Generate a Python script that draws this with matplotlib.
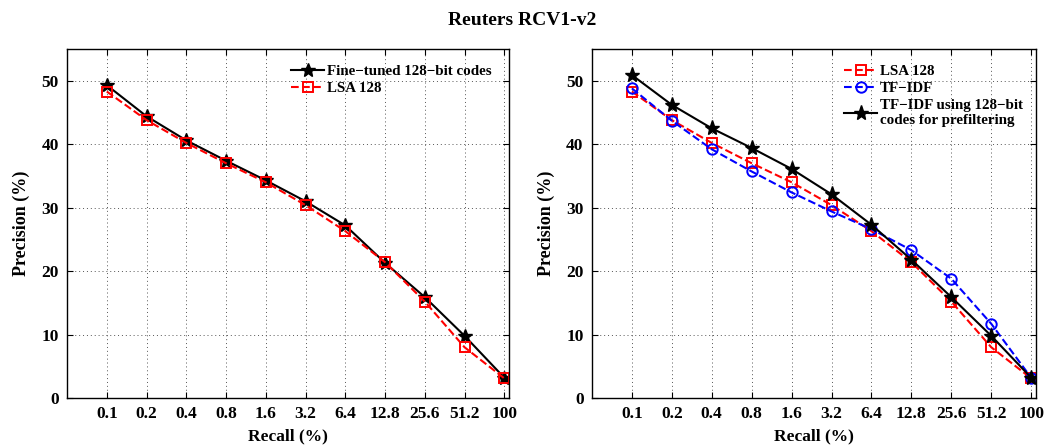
import matplotlib
matplotlib.use("Agg")
import matplotlib.pyplot as plt

recall_labels = ["0.1", "0.2", "0.4", "0.8", "1.6", "3.2", "6.4", "12.8", "25.6", "51.2", "100"]
finetuned_128 = [49.3, 44.4, 40.6, 37.4, 34.3, 31.0, 27.2, 21.3, 15.9, 9.8, 3.2]
lsa_128 = [48.3, 43.8, 40.2, 37.0, 34.0, 30.4, 26.3, 21.4, 15.2, 8.0, 3.1]
tfidf = [48.8, 43.7, 39.2, 35.7, 32.4, 29.4, 26.6, 23.3, 18.8, 11.7, 3.2]
tfidf_prefilter = [50.9, 46.2, 42.5, 39.4, 36.1, 32.1, 27.3, 21.8, 15.9, 9.8, 3.2]

plt.rcParams['font.family'] = ['Liberation Serif', 'DejaVu Serif']
plt.rcParams['font.weight'] = 'bold'

fig = plt.figure(figsize=(10.44, 4.48), dpi=100)
ax1 = fig.add_axes([0.0642, 0.1116, 0.4234, 0.779])
ax2 = fig.add_axes([0.567, 0.1116, 0.4253, 0.779])

x = list(range(1, len(recall_labels) + 1))

def style(ax):
    ax.set_xlim(0, 11.12)
    ax.set_ylim(0, 55)
    ax.set_xticks(x)
    ax.set_xticklabels(recall_labels)
    ax.set_yticks([0, 10, 20, 30, 40, 50])
    ax.tick_params(direction='in', top=True, right=True, labelsize=12.5, length=4, width=0.8, pad=6)
    for lab in ax.get_xticklabels() + ax.get_yticklabels():
        lab.set_fontweight('bold')
    ax.grid(True, linestyle=(0, (1, 3)), color='#555555', linewidth=0.7)
    ax.set_axisbelow(True)
    for s in ax.spines.values():
        s.set_linewidth(1.0)
    ax.set_xlabel("Recall (%)", fontsize=12.5, fontweight='bold', labelpad=4)
    ax.set_ylabel("Precision (%)", fontsize=13, fontweight='bold', labelpad=8)

ax1.plot(x, finetuned_128, color='black', linestyle='-', linewidth=1.5, marker='*', markersize=10,
         label='Fine\u2212tuned 128\u2212bit codes')
ax1.plot(x, lsa_128, color='red', linestyle='--', linewidth=1.5, marker='s', markersize=6.5,
         markerfacecolor='none', markeredgewidth=1.4, label='LSA 128')
style(ax1)
ax1.legend(loc='upper right', bbox_to_anchor=(0.985, 0.985), frameon=False, handlelength=2.2,
           handletextpad=0.2, borderaxespad=0.3, labelspacing=0.25,
           prop={'weight': 'bold', 'size': 10.8})

ax2.plot(x, lsa_128, color='red', linestyle='--', linewidth=1.5, marker='s', markersize=6.5,
         markerfacecolor='none', markeredgewidth=1.4, label='LSA 128')
ax2.plot(x, tfidf, color='blue', linestyle='--', linewidth=1.5, marker='o', markersize=7.5,
         markerfacecolor='none', markeredgewidth=1.4, label='TF\u2212IDF')
ax2.plot(x, tfidf_prefilter, color='black', linestyle='-', linewidth=1.5, marker='*', markersize=11,
         label='TF\u2212IDF using 128\u2212bit\ncodes for prefiltering')
style(ax2)
ax2.legend(loc='upper right', bbox_to_anchor=(0.995, 0.985), frameon=False, handlelength=2.2,
           handletextpad=0.2, borderaxespad=0.3, labelspacing=0.25,
           prop={'weight': 'bold', 'size': 10.8})

fig.text(0.5, 0.955, "Reuters RCV1-v2", ha='center', va='center', fontsize=14, fontweight='bold')

fig.savefig("out.png", dpi=100)
